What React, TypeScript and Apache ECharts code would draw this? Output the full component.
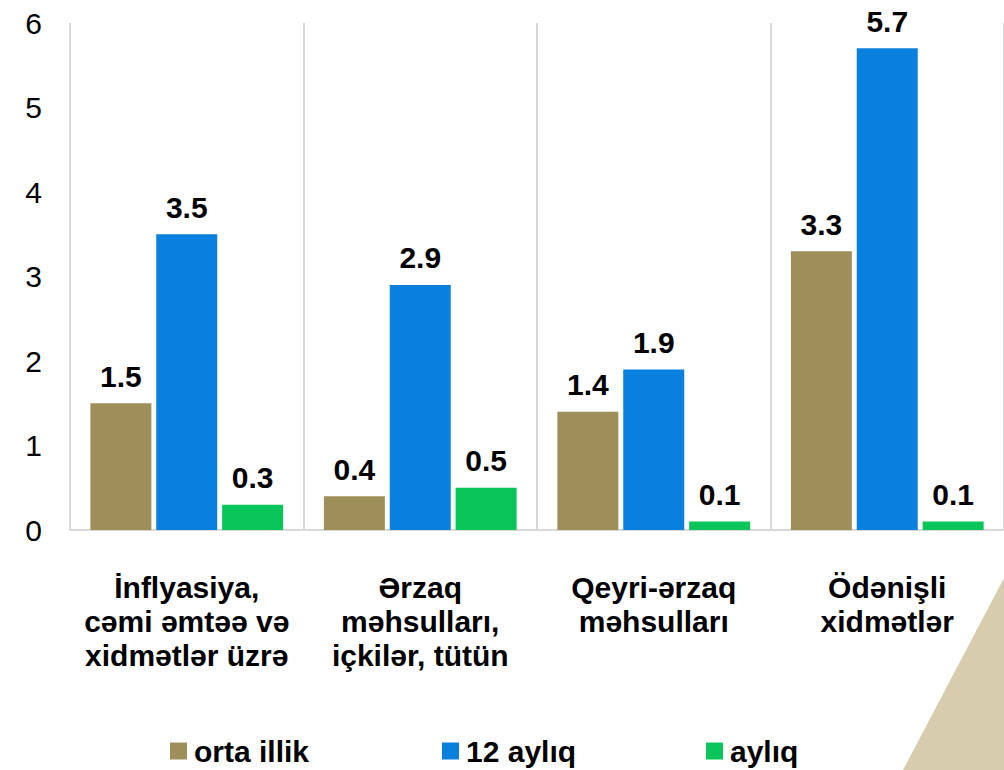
import React, { useEffect, useRef } from "react";
import * as echarts from "echarts";

const categories = [
  "İnflyasiya,\ncəmi əmtəə və\nxidmətlər üzrə",
  "Ərzaq\nməhsulları,\niçkilər, tütün",
  "Qeyri-ərzaq\nməhsulları",
  "Ödənişli\nxidmətlər",
];
const seriesNames = ["orta illik", "12 aylıq", "aylıq"];
const ortaIllik = [1.5, 0.4, 1.4, 3.3];
const aylıq12 = [3.5, 2.9, 1.9, 5.7];
const aylıq = [0.3, 0.5, 0.1, 0.1];
const colors = ["#9E8F5A", "#0A80DE", "#0AC55A"];
const yTicks = [0, 6, 1];

const FONT = "'Liberation Sans', Arial, sans-serif";

export default function App() {
  const ref = useRef<HTMLDivElement>(null);
  useEffect(() => {
    if (!ref.current) return;
    const chart = echarts.init(ref.current, null, { renderer: "svg" });
    const dataSets = [ortaIllik, aylıq12, aylıq];
    const legendLefts = [165, 437, 701];
    chart.setOption({
      animation: false,
      backgroundColor: "#ffffff",
      textStyle: { fontFamily: FONT },
      grid: { left: 70, top: 23, width: 935, height: 507, containLabel: false },
      legend: seriesNames.map((n, i) => ({
        data: [n],
        left: legendLefts[i],
        top: 731,
        itemWidth: 17,
        itemHeight: 17,
        itemGap: 6,
        icon: "rect",
        textStyle: { fontSize: 30, fontWeight: "bold", color: "#000", fontFamily: FONT, padding: [0, 0, 0, 2] },
      })),
      xAxis: {
        type: "category",
        data: categories,
        axisLine: { show: true, lineStyle: { color: "#D9D9D9", width: 2 } },
        axisTick: { show: false },
        splitLine: { show: true, lineStyle: { color: "#D9D9D9", width: 2 } },
        axisLabel: {
          margin: 40,
          fontSize: 30,
          fontWeight: "bold",
          color: "#000",
          lineHeight: 34,
          fontFamily: FONT,
          interval: 0,
        },
      },
      yAxis: {
        type: "value",
        min: yTicks[0],
        max: yTicks[1],
        interval: yTicks[2],
        axisLine: { show: false },
        axisTick: { show: false },
        splitLine: { show: false },
        axisLabel: { fontSize: 30, color: "#000", margin: 28, fontFamily: FONT },
      },
      graphic: [
        {
          type: "polygon",
          shape: { points: [[1004, 578], [1004, 770], [903, 770]] },
          style: { fill: "#D8CCAE" },
          z: -1,
        },
      ],
      series: seriesNames.map((n, i) => ({
        name: n,
        type: "bar",
        data: dataSets[i],
        barWidth: 61,
        barGap: "8%",
        itemStyle: { color: colors[i] },
        label: {
          show: true,
          position: "top",
          distance: 12,
          fontSize: 30,
          fontWeight: "bold",
          color: "#000",
          fontFamily: FONT,
          formatter: (p: any) => p.value.toFixed(1),
        },
      })),
    });
    return () => chart.dispose();
  }, []);
  return (
    <div
      ref={ref}
      style={{ position: "absolute", left: 0, top: 0, width: 1004, height: 770 }}
    />
  );
}
